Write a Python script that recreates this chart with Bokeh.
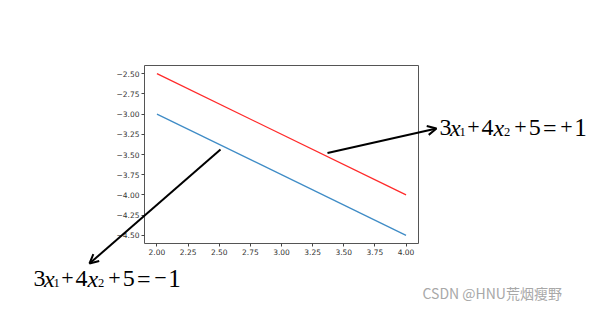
from bokeh.plotting import figure
from bokeh.models import Range1d, FixedTicker, CustomJSTickFormatter, Label, Arrow, OpenHead, LinearAxis
from bokeh.embed import file_html
from bokeh.resources import INLINE

# data
x_vals = [2.0, 4.0]
y_pos = [-2.5, -4.0]   # 3x1 + 4x2 + 5 = +1
y_neg = [-3.0, -4.5]   # 3x1 + 4x2 + 5 = -1
x_ticks = [2.0, 2.25, 2.5, 2.75, 3.0, 3.25, 3.5, 3.75, 4.0]
y_ticks = [-2.5, -2.75, -3.0, -3.25, -3.5, -3.75, -4.0, -4.25, -4.5]

W, H = 601, 311
FL, FR, FT, FB = 144, 418, 65, 243     # pixel box of the axes
X0, X1 = 1.9, 4.1
Y0, Y1 = -4.6, -2.4
sx = (FR - FL) / (X1 - X0)
sy = (FB - FT) / (Y1 - Y0)

p = figure(width=W, height=H, output_backend="svg", toolbar_location=None,
           x_range=Range1d(X0 - FL / sx, X1 + (W - FR) / sx),
           y_range=Range1d(Y0 - (H - FB) / sy, Y1 + FT / sy),
           x_axis_location=None, y_axis_location=None, min_border=0)
p.background_fill_color = "white"
p.border_fill_color = "white"
p.grid.visible = False
p.outline_line_color = None

fmt = CustomJSTickFormatter(code="return tick.toFixed(2).replace('-', '\u2212');")

def style(ax, ticks, labels=True):
    ax.ticker = FixedTicker(ticks=ticks)
    ax.formatter = fmt
    ax.axis_line_color = "#555555"
    ax.axis_line_width = 1
    ax.major_tick_line_color = "#444444"
    ax.major_tick_in = 0
    ax.major_tick_out = 3 if labels else 0
    ax.minor_tick_line_color = None
    ax.major_label_text_font = "DejaVu Sans"
    ax.major_label_text_font_size = "7.5px" if labels else "0px"
    ax.major_label_text_color = "#333333"
    ax.major_label_standoff = 2

xb = LinearAxis(fixed_location=Y0, bounds=(X0, X1))
yl = LinearAxis(fixed_location=X0, bounds=(Y0, Y1))
xt = LinearAxis(fixed_location=Y1, bounds=(X0, X1))
yr = LinearAxis(fixed_location=X1, bounds=(Y0, Y1))
style(xb, x_ticks)
style(yl, y_ticks)
style(xt, [], False)
style(yr, [], False)
p.add_layout(xb, "below")
p.add_layout(yl, "left")
p.add_layout(xt, "above")
p.add_layout(yr, "right")

p.line(x_vals, y_pos, line_color="#ff2a2a", line_width=1.3)
p.line(x_vals, y_neg, line_color="#3f8cc6", line_width=1.3)

U = "canvas"

# arrows
for (a, b, c, d) in ((327, 152.5, 436, 128), (220, 149, 89, 263)):
    p.add_layout(Arrow(x_start=a, y_start=b, x_end=c, y_end=d,
                       start_units=U, end_units=U,
                       line_color="black", line_width=2,
                       end=OpenHead(size=9, line_width=2, line_color="black")))

F = 24
SUB = 12.5
PL = 22
def equation(x0, base, sign):
    pieces = [("3", 0, F, "normal", 0), ("x", 10.6, F, "italic", 0), ("1", 20.0, SUB, "normal", 4),
              ("+", 27.7, PL, "normal", -0.5), ("4", 42.1, F, "normal", 0), ("x", 53.9, F, "italic", 0),
              ("2", 64.5, SUB, "normal", 4), ("+", 74.8, PL, "normal", -0.5), ("5", 89.2, F, "normal", 0),
              ("=", 103.6, F, "normal", 0), (sign, 120.8, PL, "normal", -0.5), ("1", 134.7, 25, "normal", 0)]
    for t, off, size, st, dyoff in pieces:
        p.add_layout(Label(x=x0 + off, y=base + dyoff, x_units=U, y_units=U, text=t,
                           text_font="Liberation Serif", text_font_size=f"{size}px",
                           text_font_style=st, text_color="black",
                           text_baseline="alphabetic", text_align="left"))

equation(439, 127, "+")
equation(33, 278, "\u2212")

p.add_layout(Label(x=422, y=292, x_units=U, y_units=U, text="CSDN @HNU荒烟瘦野",
                   text_font="Noto Sans CJK SC", text_font_size="14px",
                   text_color="#a8a8a8", text_baseline="alphabetic", text_align="left"))

open("out.html", "w").write(file_html(p, INLINE))
